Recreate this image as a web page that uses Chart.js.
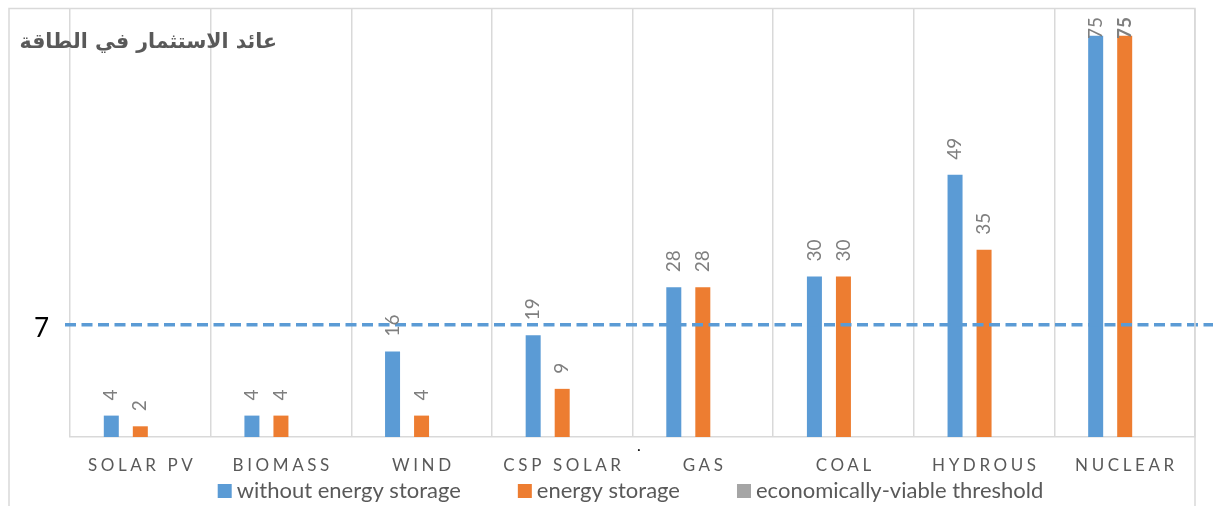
<!DOCTYPE html>
<html>
<head>
<meta charset="utf-8">
<script src="https://cdn.jsdelivr.net/npm/chart.js@4/dist/chart.umd.min.js"></script>
<style>
  html, body { margin: 0; padding: 0; background: #ffffff; }
  #wrap { width: 1213px; height: 506px; position: relative; }
</style>
</head>
<body>
<div id="wrap"><canvas id="c" width="1213" height="506"></canvas></div>
<script>
// Energy return on investment by source
const categories = ['SOLAR PV', 'BIOMASS', 'WIND', 'CSP SOLAR', 'GAS', 'COAL', 'HYDROUS', 'NUCLEAR'];
const withoutStorage = [4, 4, 16, 19, 28, 30, 49, 75];
const withStorage = [2, 4, 4, 9, 28, 30, 35, 75];
const thresholdValue = 7;
const seriesNames = ['without energy storage', 'energy storage', 'economically-viable threshold'];
const chartTitle = 'عائد الاستثمار في الطاقة';

const BLUE = '#5B9BD5';
const ORANGE = '#ED7D31';
const GRAY = '#A5A5A5';
const GRID = '#D9D9D9';
const TEXT = '#595959';

const labelFont = 'Lato, "Open Sans", sans-serif';

const decorations = {
  id: 'decorations',
  afterDatasetsDraw(chart) {
    const { ctx, chartArea } = chart;
    // threshold line on the secondary scale
    const ty = chart.scales.y2.getPixelForValue(thresholdValue);
    ctx.save();
    ctx.strokeStyle = BLUE;
    ctx.lineWidth = 3.5;
    ctx.setLineDash([11, 5.5]);
    ctx.beginPath();
    ctx.moveTo(chartArea.left - 5, ty);
    ctx.lineTo(chart.width, ty);
    ctx.stroke();
    ctx.restore();

    // rotated value labels above the bars
    [0, 1].forEach(di => {
      const meta = chart.getDatasetMeta(di);
      const values = chart.data.datasets[di].data;
      meta.data.forEach((bar, i) => {
        const v = values[i];
        if (v == null) return;
        const bold = di === 1 && i === values.length - 1;
        ctx.save();
        ctx.font = (bold ? 'bold ' : '') + '19px ' + labelFont;
        ctx.fillStyle = '#7F7F7F';
        const w = ctx.measureText(String(v)).width;
        let anchor = bar.y - 15;
        if (anchor - w < chartArea.top + 8) anchor = Math.max(bar.y, chartArea.top + 8 + w);
        ctx.translate(bar.x, anchor);
        ctx.rotate(-Math.PI / 2);
        ctx.textAlign = 'left';
        ctx.textBaseline = 'middle';
        ctx.fillText(String(v), 0, 0);
        ctx.restore();
      });
    });
  },
  afterDraw(chart) {
    const { ctx, chartArea } = chart;
    const xs = chart.scales.x;

    // letter-spaced category labels
    ctx.save();
    const spacing = 3.6;
    ctx.font = '17px ' + labelFont;
    ctx.fillStyle = TEXT;
    ctx.letterSpacing = spacing + 'px';
    ctx.textAlign = 'center';
    ctx.textBaseline = 'middle';
    categories.forEach((c, i) => {
      ctx.fillText(c, xs.getPixelForValue(i) + spacing / 2, chartArea.bottom + 29);
    });
    ctx.restore();

    // legend
    ctx.save();
    ctx.font = '22px ' + labelFont;
    ctx.textBaseline = 'middle';
    ctx.textAlign = 'left';
    const box = 14, gap = 5, itemGap = 57;
    const items = chart.data.datasets.map(d => ({ text: d.label, color: d.backgroundColor }));
    const widths = items.map(it => box + gap + ctx.measureText(it.text).width);
    const total = widths.reduce((a, b) => a + b, 0) + itemGap * (items.length - 1);
    let lx = (chartArea.left + chartArea.right) / 2 - 2 - total / 2;
    const ly = chartArea.bottom + 54;
    items.forEach((it, i) => {
      ctx.fillStyle = it.color;
      ctx.fillRect(lx, ly - box / 2, box, box);
      ctx.fillStyle = TEXT;
      ctx.fillText(it.text, lx + box + gap, ly);
      lx += widths[i] + itemGap;
    });
    ctx.restore();

    // title
    ctx.save();
    ctx.font = 'bold 20.5px "DejaVu Sans", sans-serif';
    ctx.fillStyle = TEXT;
    ctx.textAlign = 'right';
    ctx.textBaseline = 'middle';
    ctx.fillText(chartTitle, 277, 43);
    ctx.restore();

    // stray period below the axis
    ctx.save();
    ctx.font = '16px ' + labelFont;
    ctx.fillStyle = '#000';
    ctx.textAlign = 'center';
    ctx.textBaseline = 'alphabetic';
    ctx.fillText('.', 639, 451);
    ctx.restore();

    // chart frame
    ctx.save();
    ctx.strokeStyle = GRID;
    ctx.lineWidth = 1.5;
    ctx.strokeRect(9, 8.5, chartArea.right - 9, chart.height + 20);
    ctx.restore();
  }
};

new Chart(document.getElementById('c'), {
  type: 'bar',
  data: {
    labels: categories,
    datasets: [
      { label: seriesNames[0], data: withoutStorage, backgroundColor: BLUE },
      { label: seriesNames[1], data: withStorage, backgroundColor: ORANGE },
      { label: seriesNames[2], data: categories.map(() => null), backgroundColor: GRAY }
    ]
  },
  options: {
    responsive: false,
    animation: false,
    events: [],
    datasets: { bar: { categoryPercentage: 0.619, barPercentage: 0.517 } },
    layout: { padding: { left: 9, right: 18, top: 9, bottom: 69 } },
    plugins: { legend: { display: false }, tooltip: { enabled: false }, title: { display: false } },
    scales: {
      x: {
        grid: { offset: true, color: GRID, lineWidth: 1.5, drawTicks: false },
        border: { color: GRID, width: 1.5 },
        ticks: { display: false }
      },
      y: { display: false, min: 0, max: 80 },
      y2: {
        position: 'left',
        min: 0,
        max: 26.7,
        grid: { display: false, drawTicks: false },
        border: { display: false },
        ticks: { font: { family: 'Lato', size: 26 }, color: '#000000', padding: 21, labelOffset: 4 },
        afterBuildTicks: s => { s.ticks = [{ value: thresholdValue }]; },
        afterFit: s => { s.width = 61; s.paddingTop = 0; s.paddingBottom = 0; }
      }
    }
  },
  plugins: [decorations]
});
</script>
</body>
</html>
